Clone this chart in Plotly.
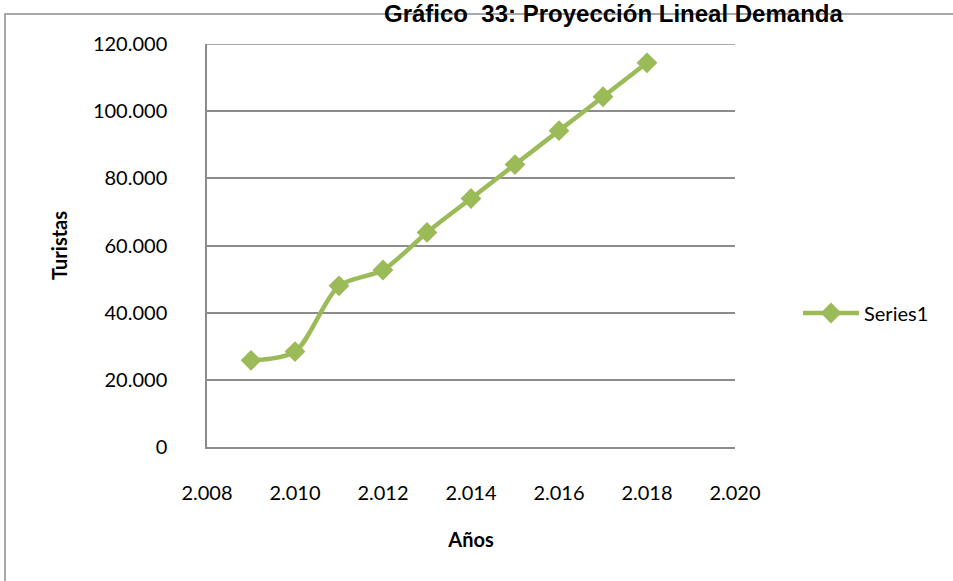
import plotly.graph_objects as go

# Tourist demand by year (real + linear projection)
years = [2009, 2010, 2011, 2012, 2013, 2014, 2015, 2016, 2017, 2018]
tourists = [25800, 28400, 48000, 52700, 63900, 74000, 84100, 94200, 104300, 114400]

y_ticks = [0, 20000, 40000, 60000, 80000, 100000, 120000]
y_labels = ["0", "20.000", "40.000", "60.000", "80.000", "100.000", "120.000"]
x_ticks = [2008, 2010, 2012, 2014, 2016, 2018, 2020]
x_labels = ["2.008", "2.010", "2.012", "2.014", "2.016", "2.018", "2.020"]

GREEN = "#9BBB59"
GRID = "#8C8C8C"
W, H = 953, 581
L, R, T, B = 207, 218, 44, 134
PW, PH = W - L - R, H - T - B

def px_x(p):
    return (p - L) / PW

def px_y(p):
    return (H - B - p) / PH

fig = go.Figure()
fig.add_trace(go.Scatter(
    x=years, y=tourists, name="Series1", mode="lines+markers",
    line=dict(color=GREEN, width=4.5, shape="spline", smoothing=0.8),
    marker=dict(symbol="diamond", size=16, color=GREEN),
))

fig.update_layout(
    width=W, height=H,
    margin=dict(l=L, r=R, t=T, b=B),
    paper_bgcolor="white", plot_bgcolor="white",
    font=dict(family="Lato, Arial, sans-serif", color="black"),
    xaxis=dict(
        range=[2008, 2020], tickvals=x_ticks, ticktext=x_labels,
        showgrid=False, zeroline=False, showline=True,
        linecolor=GRID, linewidth=1.5, ticks="",
        tickfont=dict(size=20), ticklabelstandoff=27,
        title=dict(text="<b>Años</b>", font=dict(size=20), standoff=30),
    ),
    yaxis=dict(
        range=[0, 120000], tickvals=y_ticks, ticktext=y_labels,
        showgrid=True, gridcolor=GRID, gridwidth=1.5, zeroline=False,
        showline=True, linecolor=GRID, linewidth=1.5, ticks="",
        tickfont=dict(size=20), ticklabelstandoff=34,
        title=dict(text="<b>Turistas</b>", font=dict(size=20), standoff=20),
    ),
    legend=dict(
        x=px_x(798), y=px_y(313), xanchor="left", yanchor="middle",
        font=dict(size=20), itemwidth=56, bgcolor="rgba(0,0,0,0)",
    ),
    showlegend=True,
)

# Top gridline at the upper end of the value axis
fig.add_shape(
    type="line", xref="paper", yref="y", x0=0, x1=1, y0=120000, y1=120000,
    line=dict(color=GRID, width=1.5),
)

# Chart title
fig.add_annotation(
    text="<b>Gráfico  33: Proyección Lineal Demanda</b>",
    xref="paper", yref="paper", x=px_x(613), y=px_y(13),
    xanchor="center", yanchor="middle", showarrow=False,
    font=dict(family="Liberation Sans, Arial, sans-serif", size=24, color="black"),
)

# Outer chart frame
fig.add_shape(
    type="rect", xref="paper", yref="paper",
    x0=px_x(5), x1=px_x(W + 20), y0=px_y(H + 20), y1=px_y(14),
    line=dict(color="#8C8C8C", width=1.5), layer="below",
)

fig.write_html("out.html")
